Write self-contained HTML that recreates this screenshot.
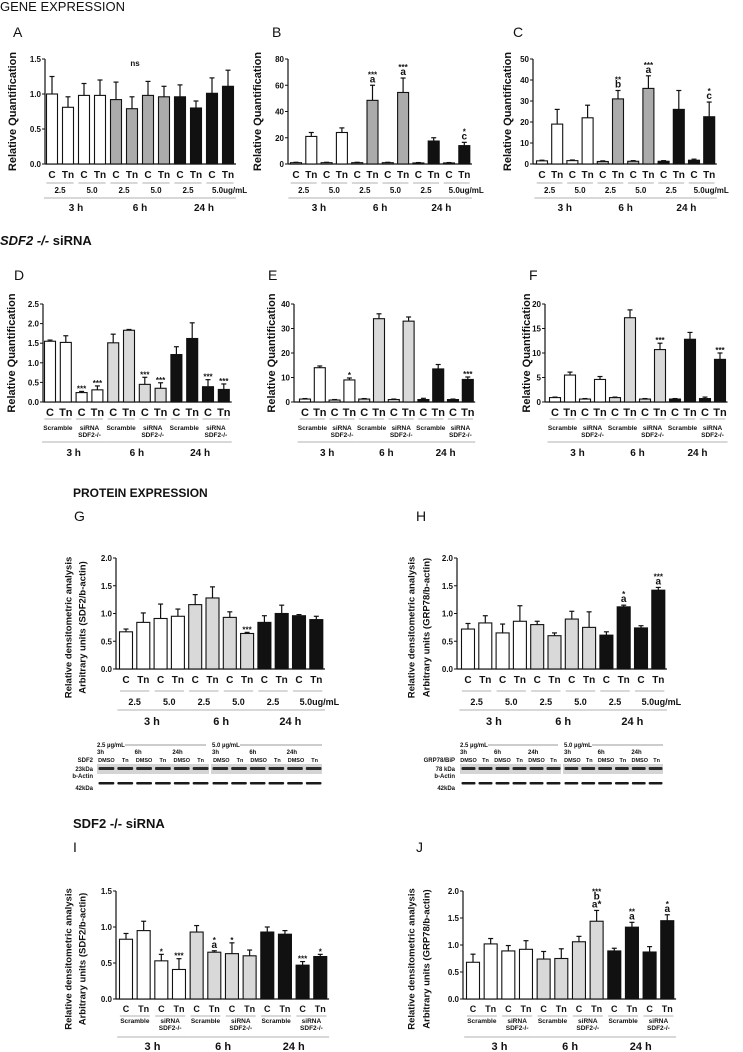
<!DOCTYPE html>
<html><head><meta charset="utf-8">
<style>
html,body{margin:0;padding:0;background:#fff;}
svg{display:block;font-family:"Liberation Sans",Arial,sans-serif;}
</style></head>
<body>
<svg id="fig" width="743" height="1052" viewBox="0 0 743 1052">
<text x="0" y="11" font-size="13" fill="#111">GENE EXPRESSION</text>
<text x="0" y="245" font-size="13" font-weight="bold" fill="#111"><tspan font-style="italic">SDF2 -/-</tspan> siRNA</text>
<text x="73" y="497" font-size="12" font-weight="bold" fill="#111">PROTEIN EXPRESSION</text>
<text x="73" y="828" font-size="13" font-weight="bold" fill="#111">SDF2 -/- siRNA</text>
</svg>
<script>
// ---- data arrays ----
const cats = ["C","Tn","C","Tn","C","Tn","C","Tn","C","Tn","C","Tn"];
const doseLabels = ["2.5","5.0","2.5","5.0","2.5","5.0"];
const groupLabels = ["Scramble","siRNA|SDF2-/-","Scramble","siRNA|SDF2-/-","Scramble","siRNA|SDF2-/-"];
const timeLabels = ["3 h","6 h","24 h"];

const aValues = [1.0,0.81,0.98,0.98,0.92,0.79,0.98,0.96,0.96,0.80,1.01,1.11];
const aErrors = [0.25,0.15,0.17,0.22,0.25,0.17,0.2,0.15,0.17,0.1,0.22,0.23];
const aTicks = [0,0.5,1.0,1.5];

const bValues = [1,21,1,24,1,48.5,1,54.5,0.8,17.5,0.8,14];
const bErrors = [0.3,3,0.3,3.5,0.3,11.5,0.3,11,0.3,2.5,0.3,2.5];
const bTicks = [0,20,40,60,80];
const bAnnots = [[],[],[],[],[],["***","a"],[],["***","a"],[],[],[],["*","c"]];

const cValues = [1.5,19,1.6,22,1.2,31,1.3,36,1.3,26,1.8,22.5];
const cErrors = [0.3,7,0.3,6,0.3,4,0.3,6,0.3,9,0.5,7];
const cTicks = [0,10,20,30,40,50];
const cAnnots = [[],[],[],[],[],["**","b"],[],["***","a"],[],[],[],["*","c"]];

const dValues = [1.55,1.52,0.24,0.31,1.51,1.83,0.45,0.35,1.21,1.62,0.39,0.32];
const dErrors = [0.03,0.17,0.03,0.1,0.22,0.02,0.18,0.14,0.2,0.4,0.18,0.14];
const dTicks = [0,0.5,1.0,1.5,2.0,2.5];
const dAnnots = [[],[],["***"],["***"],[],[],["***"],["***"],[],[],["***"],["***"]];

const eValues = [1.2,14,0.8,9,1.2,34,1,33,1,13.5,1,9.2];
const eErrors = [0.2,0.7,0.2,0.8,0.2,2,0.2,1.7,0.5,1.8,0.2,1];
const eTicks = [0,10,20,30,40];
const eAnnots = [[],[],[],["*"],[],[],[],[],[],[],[],["***"]];

const fValues = [0.9,5.5,0.6,4.6,0.9,17.2,0.6,10.7,0.6,12.8,0.7,8.7];
const fErrors = [0.1,0.6,0.1,0.6,0.1,1.6,0.1,1.3,0.1,1.4,0.3,1.3];
const fTicks = [0,5,10,15,20];
const fAnnots = [[],[],[],[],[],[],[],["***"],[],[],[],["***"]];

const gValues = [0.67,0.84,0.91,0.95,1.16,1.28,0.93,0.64,0.84,1.0,0.96,0.89];
const gErrors = [0.05,0.17,0.26,0.13,0.18,0.2,0.1,0.02,0.12,0.15,0.02,0.06];
const gTicks = [0,0.5,1.0,1.5,2.0];
const gAnnots = [[],[],[],[],[],[],[],["***"],[],[],[],[]];

const hValues = [0.72,0.83,0.65,0.86,0.80,0.60,0.90,0.75,0.61,1.12,0.74,1.42];
const hErrors = [0.1,0.13,0.16,0.28,0.06,0.05,0.14,0.28,0.06,0.03,0.04,0.05];
const hTicks = [0,0.5,1.0,1.5,2.0];
const hAnnots = [[],[],[],[],[],[],[],[],[],["*","a"],[],["***","a"]];

const iValues = [0.83,0.95,0.53,0.41,0.93,0.65,0.63,0.60,0.93,0.90,0.47,0.59];
const iErrors = [0.08,0.13,0.09,0.15,0.09,0.02,0.15,0.08,0.07,0.05,0.05,0.03];
const iTicks = [0,0.5,1.0,1.5];
const iAnnots = [[],[],["*"],["***"],[],["*","a"],["*"],[],[],[],["***"],["*"]];

const jValues = [0.68,1.02,0.89,0.92,0.74,0.75,1.06,1.44,0.89,1.33,0.87,1.45];
const jErrors = [0.15,0.1,0.1,0.16,0.14,0.18,0.1,0.2,0.05,0.09,0.1,0.11];
const jTicks = [0,0.5,1.0,1.5,2.0];
const jAnnots = [[],[],[],[],[],[],[],["***","b","a*"],[],["**","a"],[],["*","a"]];

const svg = document.getElementById('fig');
const NS = 'http://www.w3.org/2000/svg';
function mk(tag, attrs, parent){
  const e = document.createElementNS(NS, tag);
  for (const k in attrs) e.setAttribute(k, attrs[k]);
  (parent||svg).appendChild(e);
  return e;
}
function txt(x,y,s,size,parent,extra){
  const t = mk('text',{x:x,y:y,'font-size':size,'text-anchor':'middle',fill:'#111'},parent);
  if (extra) for (const k in extra) t.setAttribute(k, extra[k]);
  t.textContent = s;
  return t;
}

function chart(p){
  const g = mk('g',{});
  
  
  const ys = v => p.zero - v / p.max * (p.zero - p.top);
  const xs = i => p.firstX + i * p.pitch;
  const L = txt(p.lx, p.ly, p.letter, 14, g, {'text-anchor':'start'});
  
  
  const T = txt(p.tx, p.ty, p.title, p.titleSize, g, {'font-weight':'bold','font-style':p.italic?'italic':'normal'});
  
  
  p.ylabel.forEach((s, k) => {
    const x = p.ylx[k], y = (p.top + p.zero) / 2 + (p.ylOffset||0);
    const t = txt(x, y, s, p.ylSize, g, {'font-weight':'bold', transform:'rotate(-90 '+x+' '+y+')', 'dominant-baseline':'middle'});
    
    
  });
  const lastX = xs(11) + p.pitch/2;
  const ax = mk('line',{x1:p.axisX,y1:p.top,x2:p.axisX,y2:p.zero,stroke:'#111','stroke-width':1.2},g);
  
  
  const bx = mk('line',{x1:p.axisX,y1:p.zero,x2:lastX,y2:p.zero,stroke:'#111','stroke-width':1.2},g);
  
  
  p.ticks.forEach(v => {
    const y = ys(v);
    mk('line',{x1:p.axisX-3,y1:y,x2:p.axisX,y2:y,stroke:'#111'},g);
    const t = txt(p.axisX-4, y+3, v.toFixed(p.dec), 8, g, {'text-anchor':'end','font-weight':'bold'});
    
    
  });
  p.values.forEach((v, i) => {
    const x = xs(i);
    const fill = i < 4 ? '#ffffff' : (i < 8 ? p.gray : '#111111');
    const yT = ys(p.errors[i] + v);
    mk('line',{x1:x,y1:ys(v),x2:x,y2:yT,stroke:'#111','stroke-width':1.2},g);
    mk('line',{x1:x-2.5,y1:yT,x2:x+2.5,y2:yT,stroke:'#111','stroke-width':1.2},g);
    const r = mk('rect',{x:x-p.bw/2,y:ys(v),width:p.bw,height:p.zero-ys(v),fill:fill,stroke:'#111','stroke-width':1.1},g);
    
    
    const ann = (p.annots && p.annots[i]) || [];
    let yy = yT - 3;
    for (let k = ann.length - 1; k >= 0; k--) {
      const s = ann[k];
      const star = /^\*+$/.test(s);
      const t = txt(x, yy + (star ? 3 : 0), s, star ? 8 : 10, g, {'font-weight':'bold'});
      
      
      yy -= star ? 6 : 8;
    }
    const c = txt(x, p.catY, cats[i], p.catSize, g, {'font-weight':'bold'});
    
    
  });
  for (let k = 0; k < 6; k++) {
    const cx = (xs(2*k) + xs(2*k+1)) / 2;
    const w = p.pitch * 0.85;
    mk('line',{x1:cx-w,y1:p.line1Y,x2:cx+w,y2:p.line1Y,stroke:'#999','stroke-width':0.8},g);
    if (p.mode === 'dose') {
      const s = doseLabels[k];
      const t = k === 5 && p.units ? txt(cx-8, p.pairY, s + 'ug/mL', p.pairSize, g, {'text-anchor':'start','font-weight':'bold'})
                                   : txt(cx, p.pairY, s, p.pairSize, g, {'font-weight':'bold'});
      
      
    } else {
      groupLabels[k].split('|').forEach((s, m) => {
        const t = txt(cx, p.pairY + m*7, s, 6.5, g, {'font-weight':'bold'});
        
        
      });
    }
  }
  for (let k = 0; k < 3; k++) {
    const x1 = xs(4*k) - p.pitch*0.5, x2 = xs(4*k+3) + p.pitch*0.5;
    mk('line',{x1:x1,y1:p.line2Y,x2:x2,y2:p.line2Y,stroke:'#999','stroke-width':0.8},g);
    const t = txt((x1+x2)/2, p.timeY, timeLabels[k], p.timeSize, g, {'font-weight':'bold'});
    
    
  }
}

const rowA = {top:59, zero:164, catY:178, catSize:10, line1Y:183, pairY:193, pairSize:8, line2Y:198, timeY:211, timeSize:10, mode:'dose', gray:'#ababab', bw:11, ty:46, ly:37, titleSize:10, italic:true, ylabel:['Relative Quantification'], ylSize:11, units:true};
chart(Object.assign({}, rowA, {id:'a', letter:'A', lx:13, tx:137, axisX:45, firstX:52, pitch:16, max:1.5, ticks:aTicks, dec:1, values:aValues, errors:aErrors, annots:null, ylx:[13]}));
txt(135, 66, 'ns', 8, svg, {'font-weight':'bold'});
chart(Object.assign({}, rowA, {id:'b', letter:'B', lx:272, tx:380, axisX:288, firstX:296, pitch:15.3, max:80, ticks:bTicks, dec:0, values:bValues, errors:bErrors, annots:bAnnots, ylx:[258]}));
chart(Object.assign({}, rowA, {id:'c', letter:'C', lx:513, tx:637, axisX:533, firstX:542, pitch:15.2, max:50, ticks:cTicks, dec:0, values:cValues, errors:cErrors, annots:cAnnots, ylx:[508]}));

const rowD = {top:304, zero:402, catY:416, catSize:11, line1Y:419, pairY:430, line2Y:442, timeY:456, timeSize:10, mode:'group', gray:'#d9d9d9', bw:11, ty:291, ly:280, titleSize:10, italic:true, ylabel:['Relative Quantification'], ylSize:11};
chart(Object.assign({}, rowD, {id:'d', letter:'D', lx:14, tx:138, axisX:43, firstX:50, pitch:15.8, max:2.5, ticks:dTicks, dec:1, values:dValues, errors:dErrors, annots:dAnnots, ylx:[12]}));
chart(Object.assign({}, rowD, {id:'e', letter:'E', lx:268, tx:387, axisX:294, firstX:305, pitch:14.8, max:40, ticks:eTicks, dec:0, values:eValues, errors:eErrors, annots:eAnnots, ylx:[272]}));
chart(Object.assign({}, rowD, {id:'f', letter:'F', lx:529, tx:637, axisX:545, firstX:555, pitch:15, max:20, ticks:fTicks, dec:0, values:fValues, errors:fErrors, annots:fAnnots, ylx:[527]}));

const rowG = {top:558, zero:669, catY:683, catSize:10, line1Y:691, pairY:705, pairSize:9, line2Y:710, timeY:725, timeSize:11, mode:'dose', gray:'#d9d9d9', bw:13, ty:546, ly:521, titleSize:12, italic:false, ylSize:9.5, ylOffset:14, units:true};
chart(Object.assign({}, rowG, {id:'g', letter:'G', lx:74, tx:215, axisX:116, firstX:126, pitch:17.3, max:2.0, ticks:gTicks, dec:1, values:gValues, errors:gErrors, annots:gAnnots, ylx:[69,83], ylabel:['Relative densitometric analysis','Arbitrary units (SDF2/b-actin)']}));
chart(Object.assign({}, rowG, {id:'h', letter:'H', lx:416, tx:558, axisX:457, firstX:468, pitch:17.3, max:2.0, ticks:hTicks, dec:1, values:hValues, errors:hErrors, annots:hAnnots, ylx:[412,427], ylabel:['Relative densitometric analysis','Arbitrary units (GRP78/b-actin)']}));

const rowI = {top:891, zero:999, catY:1012, catSize:9, line1Y:1016, pairY:1023, line2Y:1037, timeY:1050, timeSize:11, mode:'group', gray:'#d9d9d9', bw:13, ty:879, ly:852, titleSize:12, italic:false, ylSize:9.5, ylOffset:14};
chart(Object.assign({}, rowI, {id:'i', letter:'I', lx:73, tx:224, axisX:116, firstX:126, pitch:17.66, max:1.5, ticks:iTicks, dec:1, values:iValues, errors:iErrors, annots:iAnnots, ylx:[69,83], ylabel:['Relative densitometric analysis','Arbitrary units (SDF2/b-actin)']}));
chart(Object.assign({}, rowI, {id:'j', letter:'J', lx:416, tx:566, axisX:463, firstX:473, pitch:17.66, max:2.0, ticks:jTicks, dec:1, values:jValues, errors:jErrors, annots:jAnnots, ylx:[412,427], ylabel:['Relative densitometric analysis','Arbitrary units (GRP78/b-actin)']}));

// western blots
function blot(id, x0, x1, mid, labX, labels){
  const g = mk('g',{});
  
  
  txt(x0, 747, '2.5 µg/mL', 6, g, {'text-anchor':'start','font-weight':'bold'});
  mk('line',{x1:x0+28,y1:745,x2:mid-4,y2:745,stroke:'#333','stroke-width':0.6},g);
  txt(mid+2, 747, '5.0 µg/mL', 6, g, {'text-anchor':'start','font-weight':'bold'});
  mk('line',{x1:mid+30,y1:745,x2:x1,y2:745,stroke:'#333','stroke-width':0.6},g);
  const lw = (mid - x0) / 6, rw = (x1 - mid) / 6;
  ['3h','6h','24h'].forEach((s,k)=>{
    txt(x0 + k*2*lw, 754, s, 6, g, {'text-anchor':'start','font-weight':'bold'});
    txt(mid + 2 + k*2*rw, 754, s, 6, g, {'text-anchor':'start','font-weight':'bold'});
  });
  for (let k=0;k<6;k++){
    txt(x0 + k*lw + lw/2, 762, k%2?'Tn':'DMSO', 5.5, g, {'font-weight':'bold'});
    txt(mid + 2 + k*rw + rw/2, 762, k%2?'Tn':'DMSO', 5.5, g, {'font-weight':'bold'});
  }
  [[x0, mid-1, lw],[mid+1, x1, rw]].forEach(([a,b,w])=>{
    mk('rect',{x:a,y:764,width:b-a,height:10,fill:'#d4d4d4'},g);
    for (let k=0;k<6;k++){
      mk('rect',{x:a+k*w+1.5,y:767,width:w-3,height:3,rx:1,fill:'#2a2a2a'},g);
      mk('rect',{x:a+k*w+1.5,y:782,width:w-3,height:2.5,rx:1,fill:'#1a1a1a'},g);
    }
  });
  labels.forEach((s,k)=>{
    txt(labX, [762,771,778,790][k], s, 6, g, {'text-anchor':'end','font-weight':'bold'});
  });
}
blot('sdf2', 97, 322, 210, 93, ['SDF2','23kDa','b-Actin','42kDa']);
blot('grp78', 460, 663, 562, 455, ['GRP78/BiP','78 kDa','b-Actin','42kDa']);
</script>
</body></html>
